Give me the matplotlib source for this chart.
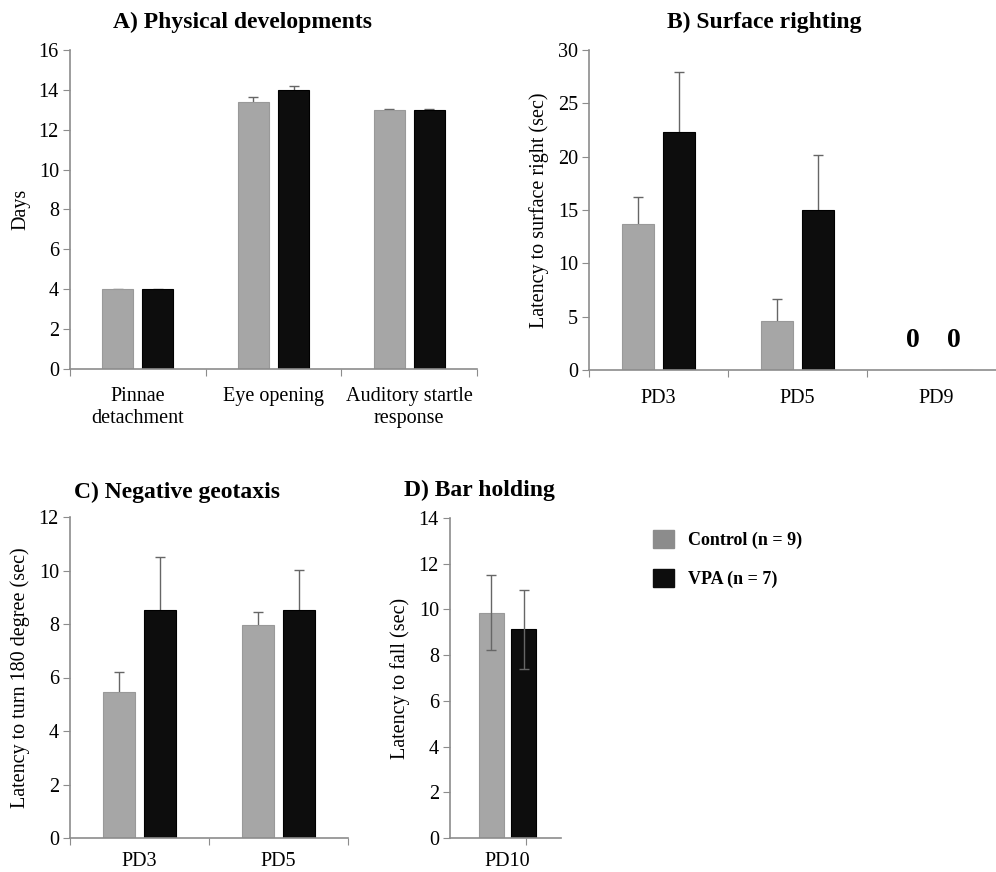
import numpy as np
import matplotlib.pyplot as plt
from matplotlib.patches import Patch

plt.rcParams['font.family'] = ['Liberation Serif', 'DejaVu Serif']
plt.rcParams['font.size'] = 14.5

# A) physical developments (days)
cats_a = ['Pinnae\ndetachment', 'Eye opening', 'Auditory startle\nresponse']
ctrl_a = [4.0, 13.4, 13.0]
ctrl_a_err = [0.03, 0.25, 0.03]
vpa_a = [4.0, 14.0, 13.0]
vpa_a_err = [0.03, 0.2, 0.03]

# B) surface righting (sec)
cats_b = ['PD3', 'PD5', 'PD9']
ctrl_b = [13.7, 4.55, 0]
ctrl_b_err = [2.5, 2.1, 0]
vpa_b = [22.3, 15.0, 0]
vpa_b_err = [5.6, 5.2, 0]

# C) negative geotaxis (sec)
cats_c = ['PD3', 'PD5']
ctrl_c = [5.47, 7.96]
ctrl_c_err = [0.75, 0.47]
vpa_c = [8.52, 8.52]
vpa_c_err = [2.0, 1.5]

# D) bar holding (sec)
cats_d = ['PD10']
ctrl_d = [9.86]
ctrl_d_err = [1.63]
vpa_d = [9.14]
vpa_d_err = [1.73]

labels = ['Control (n = 9)', 'VPA (n = 7)']

c_ctrl = '#a6a6a6'
c_vpa = '#0d0d0d'
spine_c = '#8c8c8c'
err_c = '#666666'
fs = 14.5

W, H = 996, 872
fig = plt.figure(figsize=(W / 100, H / 100), dpi=100)


def box(l, t, r, b):
    return [l / W, 1 - b / H, (r - l) / W, (b - t) / H]


def bars(ax, cats, c, ce, v, ve, both=False, off=0.148, w=0.228, xpad=10):
    x = np.arange(len(cats))
    c, ce, v, ve = map(np.array, (c, ce, v, ve))
    ax.bar(x - off, c, w, color=c_ctrl, edgecolor='#999999', linewidth=0.8, zorder=2)
    ax.bar(x + off, v, w, color=c_vpa, edgecolor='#000000', linewidth=0.8, zorder=2)
    # whiskers behind the bars, so only the upper half shows (except panel D)
    ez = 3 if both else 1
    for xs, ys, es in ((x - off, c, ce), (x + off, v, ve)):
        m = ys > 0
        ax.errorbar(xs[m], ys[m], yerr=es[m], fmt='none', ecolor=err_c,
                    elinewidth=1, capsize=3.5, capthick=1, zorder=ez)
    for s in ['top', 'right']:
        ax.spines[s].set_visible(False)
    for s in ['left', 'bottom']:
        ax.spines[s].set_color(spine_c)
        ax.spines[s].set_linewidth(1.2)
    ax.tick_params(axis='y', direction='out', length=5, color=spine_c, labelsize=fs, pad=3)
    ax.tick_params(axis='x', which='major', direction='out', length=5, color=spine_c, labelbottom=False)
    ax.tick_params(axis='x', which='minor', length=0, labelsize=fs, pad=xpad)
    ax.set_xticks(np.arange(len(cats) + 1) - 0.5)
    ax.set_xticks(x, minor=True)
    ax.set_xticklabels(cats, minor=True)
    ax.set_xlim(-0.5, len(cats) - 0.5)


# panel A
ax_a = fig.add_axes(box(70, 50, 477, 369))
bars(ax_a, cats_a, ctrl_a, ctrl_a_err, vpa_a, vpa_a_err, xpad=13)
ax_a.set_ylim(0, 16)
ax_a.set_yticks(range(0, 17, 2))
ax_a.set_ylabel('Days', fontsize=fs, labelpad=6)
fig.text(242 / W, 1 - 22 / H, 'A) Physical developments', ha='center', va='center',
         fontsize=17, fontweight='bold')

# panel B (runs off the right edge like the original)
ax_b = fig.add_axes(box(589, 50, 1006, 370))
bars(ax_b, cats_b, ctrl_b, ctrl_b_err, vpa_b, vpa_b_err, xpad=14)
ax_b.set_ylim(0, 30)
ax_b.set_yticks(range(0, 31, 5))
ax_b.set_ylabel('Latency to surface right (sec)', fontsize=fs, labelpad=6)
for dx in (-0.17, 0.125):
    ax_b.text(2 + dx, 2.8, '0', ha='center', va='center', fontsize=20, fontweight='bold')
fig.text(764 / W, 1 - 22 / H, 'B) Surface righting', ha='center', va='center',
         fontsize=17, fontweight='bold')

# panel C
ax_c = fig.add_axes(box(70, 517, 348, 838))
bars(ax_c, cats_c, ctrl_c, ctrl_c_err, vpa_c, vpa_c_err)
ax_c.set_ylim(0, 12)
ax_c.set_yticks(range(0, 13, 2))
ax_c.set_ylabel('Latency to turn 180 degree (sec)', fontsize=fs, labelpad=6)
fig.text(177 / W, 1 - 492 / H, 'C) Negative geotaxis', ha='center', va='center',
         fontsize=17, fontweight='bold')

# panel D
ax_d = fig.add_axes(box(450, 518, 561, 838))
bars(ax_d, cats_d, ctrl_d, ctrl_d_err, vpa_d, vpa_d_err, both=True, off=0.145, w=0.225)
ax_d.set_xlim(-0.518, 0.482)
ax_d.set_xticks([0.167])
ax_d.set_ylim(0, 14)
ax_d.set_yticks(range(0, 15, 2))
ax_d.set_ylabel('Latency to fall (sec)', fontsize=fs, labelpad=6)
fig.text(479 / W, 1 - 490 / H, 'D) Bar holding', ha='center', va='center',
         fontsize=17, fontweight='bold')

handles = [Patch(facecolor='#8c8c8c', edgecolor='#8c8c8c'),
           Patch(facecolor=c_vpa, edgecolor=c_vpa)]
fig.legend(handles, labels, loc='upper left', bbox_to_anchor=(653 / W, 1 - 530 / H),
           frameon=False, borderpad=0, borderaxespad=0, handlelength=1.15, handleheight=1.15,
           handletextpad=0.8, labelspacing=1.1, prop={'weight': 'bold', 'size': 13})

fig.savefig('out.png', dpi=100)
